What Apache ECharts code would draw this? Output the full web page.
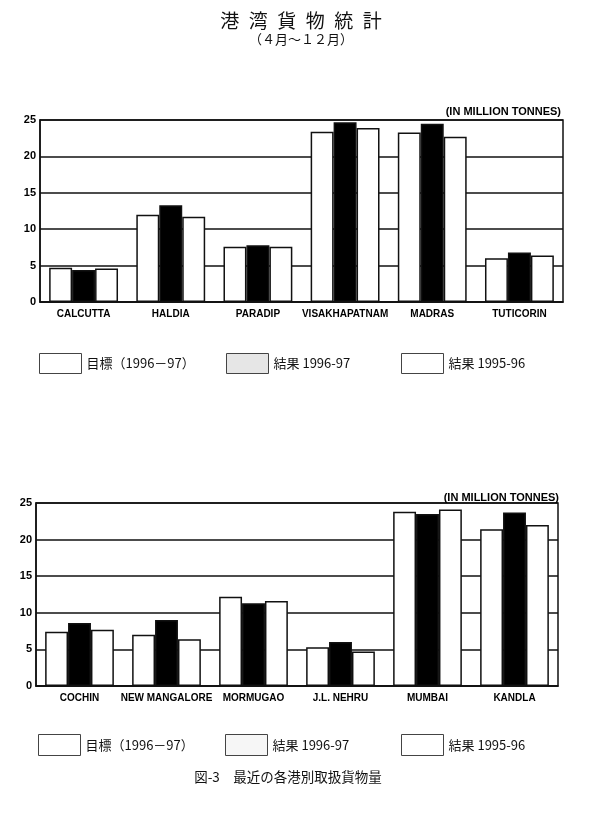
<!DOCTYPE html>
<html>
<head>
<meta charset="utf-8">
<script src="https://cdn.jsdelivr.net/npm/echarts@6/dist/echarts.min.js"></script>
<style>
html,body{margin:0;padding:0;background:#fff;}
#chart{width:600px;height:814px;}
</style>
</head>
<body>
<div id="chart"></div>
<script>
// ---- data ----
const topCategories = ['CALCUTTA', 'HALDIA', 'PARADIP', 'VISAKHAPATNAM', 'MADRAS', 'TUTICORIN'];
const topTarget9697 = [4.7, 12.0, 7.6, 23.4, 23.3, 6.0];
const topActual9697 = [4.4, 13.3, 7.8, 24.7, 24.5, 6.8];
const topActual9596 = [4.6, 11.7, 7.6, 23.9, 22.7, 6.4];

const bottomCategories = ['COCHIN', 'NEW MANGALORE', 'MORMUGAO', 'J.L. NEHRU', 'MUMBAI', 'KANDLA'];
const bottomTarget9697 = [7.4, 7.0, 12.2, 5.3, 23.8, 21.4];
const bottomActual9697 = [8.6, 9.0, 11.3, 6.0, 23.5, 23.7];
const bottomActual9596 = [7.7, 6.4, 11.6, 4.7, 24.1, 22.0];

const yTicks = [0, 5, 10, 15, 20, 25];
const seriesNames = ['目標（1996－97）', '結果 1996-97', '結果 1995-96'];
const titleText = '港湾貨物統計';
const subTitleText = '（４月～１２月）';
const unitText = '(IN MILLION TONNES)';
const captionText = '図-3　最近の各港別取扱貨物量';

// ---- chart ----
const chart = echarts.init(document.getElementById('chart'));
const latin = '"Liberation Sans", Arial, sans-serif';
const cjk = '"Noto Sans CJK JP", sans-serif';
const lineColor = '#111';

function xAxis(gridIndex, cats) {
  return {
    type: 'category', gridIndex: gridIndex, data: cats,
    axisTick: {show: false},
    axisLine: {lineStyle: {color: lineColor, width: 1.5}},
    axisLabel: {color: '#000', fontFamily: latin, fontWeight: 'bold', fontSize: 10, margin: 7, interval: 0}
  };
}
function yAxis(gridIndex) {
  return {
    type: 'value', gridIndex: gridIndex,
    min: yTicks[0], max: yTicks[yTicks.length - 1], interval: yTicks[1] - yTicks[0],
    axisLine: {show: true, lineStyle: {color: lineColor, width: 1.5}},
    axisTick: {show: false},
    splitLine: {lineStyle: {color: lineColor, width: 1.5}},
    axisLabel: {color: '#000', fontFamily: latin, fontWeight: 'bold', fontSize: 11, margin: 4}
  };
}
function barSeries(name, data, idx, fill) {
  return {
    name: name, type: 'bar', xAxisIndex: idx, yAxisIndex: idx, data: data,
    barGap: '0%', barCategoryGap: '21%',
    itemStyle: {color: fill, borderColor: lineColor, borderWidth: 1.5},
    emphasis: {disabled: true}, animation: false
  };
}
function legendItem(name, left, top, fill, h) {
  return {
    data: [{name: name, icon: 'rect', itemStyle: {color: fill, borderColor: '#444', borderWidth: 1}}],
    left: left, top: top, itemWidth: 42, itemHeight: h, selectedMode: false,
    textStyle: {fontFamily: cjk, fontSize: 13, color: '#111'}, padding: 0
  };
}

const option = {
  backgroundColor: '#fff',
  animation: false,
  title: [
    {text: titleText.split('').join('\u2002'), left: 301, top: 11, textAlign: 'center', padding: 0,
     textStyle: {fontFamily: cjk, fontSize: 19, fontWeight: 'normal', color: '#111'}},
    {text: subTitleText, left: 301, top: 33, textAlign: 'center', padding: 0,
     textStyle: {fontFamily: cjk, fontSize: 13, fontWeight: 'normal', color: '#111'}},
    {text: unitText, right: 39, top: 106, padding: 0,
     textStyle: {fontFamily: latin, fontSize: 11, fontWeight: 'bold', color: '#000'}},
    {text: unitText, right: 41, top: 492, padding: 0,
     textStyle: {fontFamily: latin, fontSize: 11, fontWeight: 'bold', color: '#000'}},
    {text: captionText, left: 288, top: 770, textAlign: 'center', padding: 0,
     textStyle: {fontFamily: cjk, fontSize: 13.5, fontWeight: 'normal', color: '#111'}}
  ],
  legend: [
    legendItem(seriesNames[0], 39, 353, '#fff', 20),
    legendItem(seriesNames[1], 226, 353, '#e6e6e6', 20),
    legendItem(seriesNames[2], 401, 353, '#fff', 20),
    legendItem(seriesNames[0], 38, 734, '#fff', 21),
    legendItem(seriesNames[1], 225, 734, '#f6f6f6', 21),
    legendItem(seriesNames[2], 401, 734, '#fff', 21)
  ],
  grid: [
    {left: 40, right: 37, top: 120, bottom: 512, show: true, borderColor: lineColor, borderWidth: 1.5, backgroundColor: 'transparent'},
    {left: 36, right: 42, top: 503, bottom: 128, show: true, borderColor: lineColor, borderWidth: 1.5, backgroundColor: 'transparent'}
  ],
  xAxis: [xAxis(0, topCategories), xAxis(1, bottomCategories)],
  yAxis: [yAxis(0), yAxis(1)],
  series: [
    barSeries(seriesNames[0], topTarget9697, 0, '#fff'),
    barSeries(seriesNames[1], topActual9697, 0, '#000'),
    barSeries(seriesNames[2], topActual9596, 0, '#fff'),
    barSeries(seriesNames[0], bottomTarget9697, 1, '#fff'),
    barSeries(seriesNames[1], bottomActual9697, 1, '#000'),
    barSeries(seriesNames[2], bottomActual9596, 1, '#fff')
  ]
};
chart.setOption(option);
</script>
</body>
</html>
